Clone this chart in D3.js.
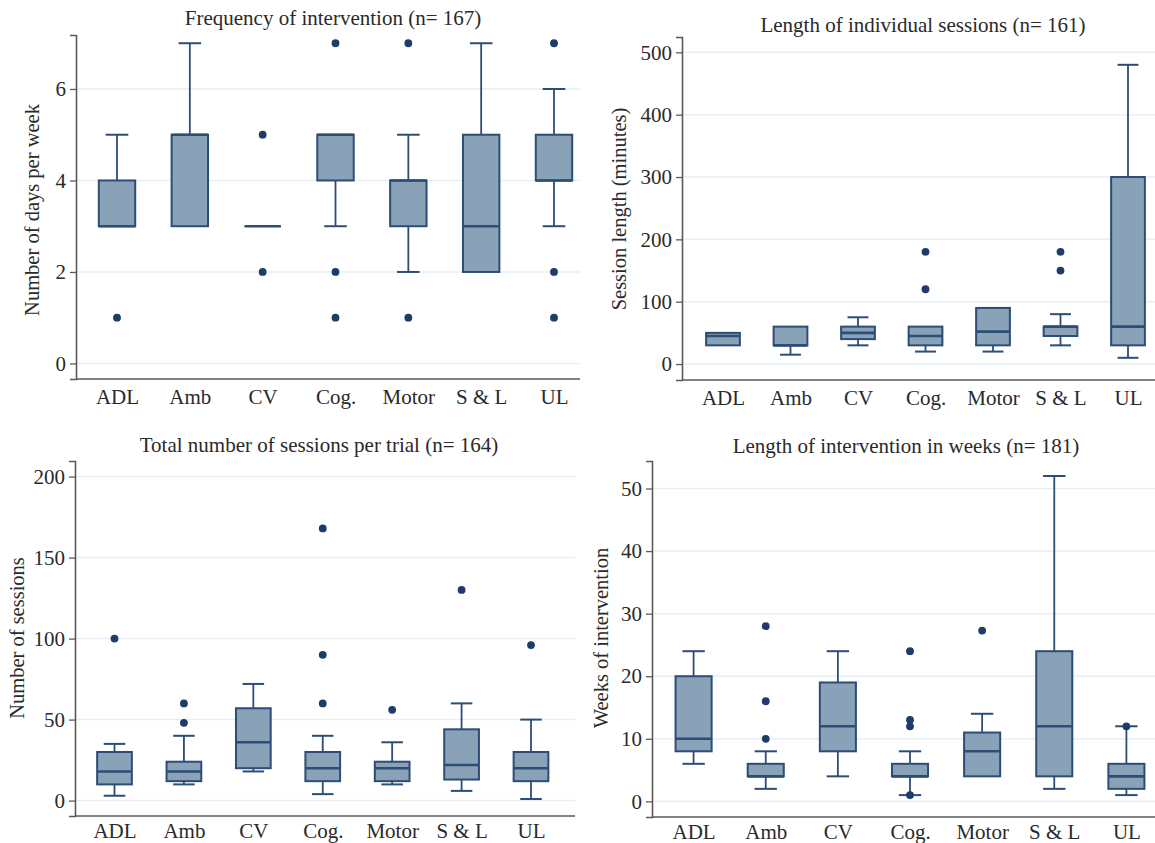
<!DOCTYPE html>
<html>
<head>
<meta charset="utf-8">
<script src="https://cdn.jsdelivr.net/npm/d3@7"></script>
<style>
  html, body { margin: 0; padding: 0; background: #fff; }
  svg { display: block; }
  text { font-family: "Liberation Serif", "Times New Roman", serif; fill: #2a2a2a; }
</style>
</head>
<body>
<svg id="chart" width="1155" height="843"></svg>
<script>
// ---------- DATA ----------
const categories = ["ADL", "Amb", "CV", "Cog.", "Motor", "S & L", "UL"];

// each entry: [lower whisker, Q1, median, Q3, upper whisker]
const freqStats = [[3,3,3,4,5],[3,3,5,5,7],[3,3,3,3,3],[3,4,5,5,5],[2,3,4,4,5],[2,2,3,5,7],[3,4,4,5,6]];
const freqOutliers = [[1],[],[5,2],[7,2,1],[7,1],[],[7,2,1]];
const freqTicks = [0,2,4,6];

const sessLenStats = [[30,30,45,50,50],[15,30,30,60,60],[30,40,50,60,75],[20,30,45,60,60],[20,30,52,90,90],[30,45,60,60,80],[10,30,60,300,480]];
const sessLenOutliers = [[],[],[],[180,120],[],[180,150],[]];
const sessLenTicks = [0,100,200,300,400,500];

const totalStats = [[3,10,18,30,35],[10,12,18,24,40],[18,20,36,57,72],[4,12,20,30,40],[10,12,20,24,36],[6,13,22,44,60],[1,12,20,30,50]];
const totalOutliers = [[100],[60,48],[],[168,90,60],[56],[130],[96]];
const totalTicks = [0,50,100,150,200];

const weeksStats = [[6,8,10,20,24],[2,4,4,6,8],[4,8,12,19,24],[1,4,4,6,8],[4,4,8,11,14],[2,4,12,24,52],[1,2,4,6,12]];
const weeksOutliers = [[],[28,16,10],[],[24,13,12,1],[27.3],[],[12]];
const weeksTicks = [0,10,20,30,40,50];

const titles = [
  "Frequency of intervention (n= 167)",
  "Length of individual sessions (n= 161)",
  "Total number of sessions per trial (n= 164)",
  "Length of intervention in weeks (n= 181)"
];
const yTitles = ["Number of days per week", "Session length (minutes)", "Number of sessions", "Weeks of intervention"];

// ---------- LAYOUT ----------
const panels = [
  { stats: freqStats, outliers: freqOutliers, ticks: freqTicks, yDom: [-0.34, 7.18],
    left: 76, right: 580, top: 35, bottom: 379, xFirst: 117, xLast: 554, xPad: 10,
    titleX: 333, titleY: 25, yTitleX: 39, yTitleY: 210 },
  { stats: sessLenStats, outliers: sessLenOutliers, ticks: sessLenTicks, yDom: [-25.6, 524.6],
    left: 682, right: 1155, top: 37, bottom: 380, xFirst: 723, xLast: 1128, xPad: 10,
    titleX: 923, titleY: 32, yTitleX: 626, yTitleY: 209 },
  { stats: totalStats, outliers: totalOutliers, ticks: totalTicks, yDom: [-9.5, 209.6],
    left: 75, right: 575, top: 461, bottom: 816, xFirst: 114.5, xLast: 531, xPad: 7,
    titleX: 319, titleY: 452, yTitleX: 24, yTitleY: 638 },
  { stats: weeksStats, outliers: weeksOutliers, ticks: weeksTicks, yDom: [-2.5, 54.4],
    left: 652, right: 1155, top: 461, bottom: 817, xFirst: 693.6, xLast: 1126.4, xPad: 7,
    titleX: 906, titleY: 453, yTitleX: 608, yTitleY: 638 }
];

const FILL = "#8aa2b8", STROKE = "#2c4d76", DOT = "#1d3c68", GRID = "#e6eff5", AXIS = "#5a5a5a";

const svg = d3.select("#chart");

panels.forEach((p, pi) => {
  const g = svg.append("g");
  const y = d3.scaleLinear().domain(p.yDom).range([p.bottom, p.top]);
  const x = d3.scalePoint().domain(categories).range([p.xFirst, p.xLast]);
  const step = x.step();
  const boxW = step * 0.5;
  const capW = boxW * 0.62;

  // gridlines
  g.append("g").selectAll("line").data(p.ticks).join("line")
    .attr("x1", p.left).attr("x2", p.right)
    .attr("y1", d => y(d)).attr("y2", d => y(d))
    .attr("stroke", GRID).attr("stroke-width", 1.5);

  // y axis
  const yAx = g.append("g").attr("transform", `translate(${p.left},0)`)
    .call(d3.axisLeft(y).tickValues(p.ticks).tickSizeOuter(0).tickSize(6).tickPadding(4).tickFormat(d3.format("d")));
  yAx.select(".domain").attr("stroke", AXIS).attr("stroke-width", 1.6);
  yAx.selectAll(".tick line").attr("stroke", AXIS).attr("stroke-width", 1.3);
  yAx.selectAll(".tick text").attr("font-size", 21).attr("fill", "#2a2a2a")
    .style("font-family", '"Liberation Serif", serif');

  // x axis line
  g.append("line").attr("x1", p.left).attr("x2", p.right)
    .attr("y1", p.bottom).attr("y2", p.bottom)
    .attr("stroke", AXIS).attr("stroke-width", 1.6);
  const xAx = g.append("g").attr("transform", `translate(0,${p.bottom})`)
    .call(d3.axisBottom(x).tickSize(0).tickPadding(p.xPad));
  xAx.select(".domain").remove();
  xAx.selectAll(".tick text").attr("font-size", 21).attr("fill", "#2a2a2a")
    .style("font-family", '"Liberation Serif", serif');

  // boxes
  const bg = g.append("g");
  p.stats.forEach((s, i) => {
    const cx = x(categories[i]);
    const [lo, q1, med, q3, hi] = s;
    if (hi > q3) {
      bg.append("line").attr("x1", cx).attr("x2", cx).attr("y1", y(q3)).attr("y2", y(hi))
        .attr("stroke", STROKE).attr("stroke-width", 1.8);
      bg.append("line").attr("x1", cx - capW/2).attr("x2", cx + capW/2).attr("y1", y(hi)).attr("y2", y(hi))
        .attr("stroke", STROKE).attr("stroke-width", 2);
    }
    if (lo < q1) {
      bg.append("line").attr("x1", cx).attr("x2", cx).attr("y1", y(q1)).attr("y2", y(lo))
        .attr("stroke", STROKE).attr("stroke-width", 1.8);
      bg.append("line").attr("x1", cx - capW/2).attr("x2", cx + capW/2).attr("y1", y(lo)).attr("y2", y(lo))
        .attr("stroke", STROKE).attr("stroke-width", 2);
    }
    bg.append("rect").attr("x", cx - boxW/2).attr("width", boxW)
      .attr("y", y(q3)).attr("height", Math.max(0, y(q1) - y(q3)))
      .attr("fill", FILL).attr("stroke", STROKE).attr("stroke-width", 2);
    bg.append("line").attr("x1", cx - boxW/2).attr("x2", cx + boxW/2).attr("y1", y(med)).attr("y2", y(med))
      .attr("stroke", STROKE).attr("stroke-width", 2.6);
    bg.selectAll(null).data(p.outliers[i]).join("circle")
      .attr("cx", cx).attr("cy", d => y(d)).attr("r", 3.9).attr("fill", DOT);
  });

  // titles
  g.append("text").attr("x", p.titleX).attr("y", p.titleY).attr("text-anchor", "middle")
    .attr("font-size", 21).text(titles[pi]);
  g.append("text").attr("transform", `translate(${p.yTitleX},${p.yTitleY}) rotate(-90)`)
    .attr("text-anchor", "middle").attr("font-size", 20.5).text(yTitles[pi]);
});
</script>
</body>
</html>
